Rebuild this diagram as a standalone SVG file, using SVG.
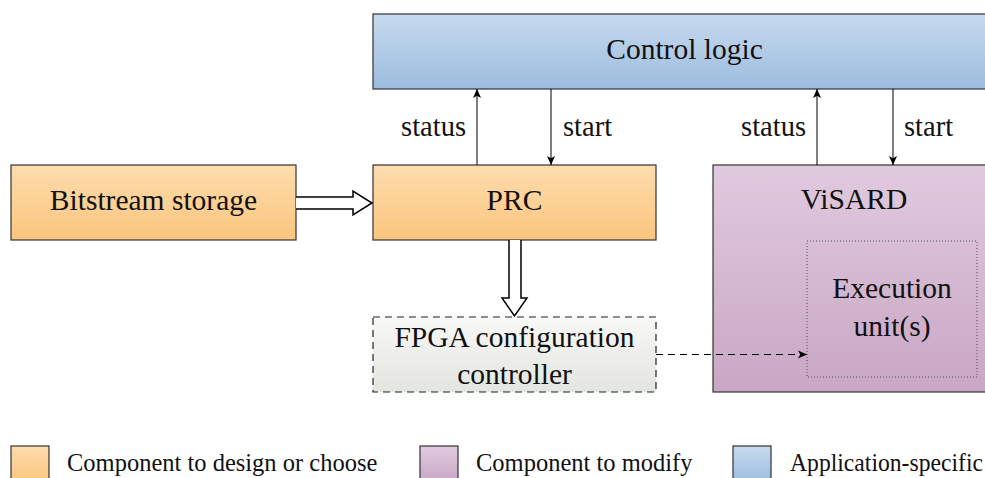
<svg xmlns="http://www.w3.org/2000/svg" width="985" height="478" viewBox="0 0 985 478">
  <defs>
    <linearGradient id="gOrange" x1="0" y1="0" x2="0" y2="1">
      <stop offset="0" stop-color="#fddcae"/>
      <stop offset="1" stop-color="#fbc67d"/>
    </linearGradient>
    <linearGradient id="gPurple" x1="0" y1="0" x2="0" y2="1">
      <stop offset="0" stop-color="#e0cade"/>
      <stop offset="1" stop-color="#c9a6c5"/>
    </linearGradient>
    <linearGradient id="gBlue" x1="0" y1="0" x2="0" y2="1">
      <stop offset="0" stop-color="#c7daee"/>
      <stop offset="1" stop-color="#9cbcdf"/>
    </linearGradient>
    <linearGradient id="gGray" x1="0" y1="0" x2="0" y2="1">
      <stop offset="0" stop-color="#f8f8f6"/>
      <stop offset="1" stop-color="#e3e5e0"/>
    </linearGradient>
    <marker id="tip" viewBox="0 0 10 10" refX="10" refY="5" markerWidth="9" markerHeight="9" markerUnits="userSpaceOnUse" orient="auto">
      <path d="M0,0.5 L10,5 L0,9.5 L2.5,5 Z" fill="#000"/>
    </marker>
  </defs>
  <style>
    .box { stroke: #333; stroke-width: 1.2; }
    .lbl { font-family: "Liberation Serif", "Times New Roman", serif; font-size: 29.5px; fill: #111; }
    .side { font-family: "Liberation Serif", "Times New Roman", serif; font-size: 28.5px; fill: #111; }
    .leg { font-family: "Liberation Serif", "Times New Roman", serif; font-size: 24.5px; fill: #111; }
    .thin { stroke: #000; stroke-width: 1; fill: none; }
    .dbl { fill: #fff; stroke: #000; stroke-width: 1.5; stroke-linejoin: miter; }
  </style>

  <rect width="985" height="478" fill="#fff"/>

  <g id="control-logic">
    <rect class="box" x="373" y="14" width="623" height="75" fill="url(#gBlue)"/>
    <text class="lbl" x="684.5" y="59" text-anchor="middle">Control logic</text>
  </g>

  <g id="bitstream-storage">
    <rect class="box" x="11" y="165" width="285" height="75" fill="url(#gOrange)"/>
    <text class="lbl" x="153.5" y="209.5" text-anchor="middle">Bitstream storage</text>
  </g>

  <g id="prc">
    <rect class="box" x="373" y="165" width="283" height="75" fill="url(#gOrange)"/>
    <text class="lbl" x="514.5" y="209.5" text-anchor="middle">PRC</text>
  </g>

  <g id="fpga-config-controller">
    <rect x="373" y="317" width="283" height="75" fill="url(#gGray)" stroke="#222" stroke-width="1.2" stroke-dasharray="7 5"/>
    <text class="lbl" x="514.5" y="346.5" text-anchor="middle">FPGA configuration</text>
    <text class="lbl" x="514.5" y="384" text-anchor="middle">controller</text>
  </g>

  <g id="visard">
    <rect class="box" x="713" y="165" width="283" height="227" fill="url(#gPurple)"/>
    <text class="lbl" x="854" y="208.5" text-anchor="middle">ViSARD</text>
  </g>

  <g id="execution-units">
    <rect x="807" y="241" width="170" height="136" fill="none" stroke="#555" stroke-width="1" stroke-dasharray="1 2"/>
    <text class="lbl" x="892" y="298" text-anchor="middle">Execution</text>
    <text class="lbl" x="892" y="336" text-anchor="middle">unit(s)</text>
  </g>

  <g id="connectors">
    <!-- status / start handshakes -->
    <line class="thin" x1="477" y1="165" x2="477" y2="89" marker-end="url(#tip)"/>
    <line class="thin" x1="551" y1="89" x2="551" y2="165" marker-end="url(#tip)"/>
    <line class="thin" x1="817" y1="165" x2="817" y2="89" marker-end="url(#tip)"/>
    <line class="thin" x1="893" y1="89" x2="893" y2="165" marker-end="url(#tip)"/>
    <text class="side" x="466" y="136" text-anchor="end">status</text>
    <text class="side" x="563" y="136">start</text>
    <text class="side" x="806" y="136" text-anchor="end">status</text>
    <text class="side" x="904" y="136">start</text>

    <!-- bitstream transfer (double-line arrows) -->
    <path class="dbl" d="M296,197 H353 V191 L372,203 L353,215 V209 H296"/>
    <path class="dbl" d="M509,240 V298 H502 L514.5,316 L527,298 H521 V240"/>

    <!-- reconfiguration of execution units -->
    <line x1="656" y1="354.5" x2="807" y2="354.5" stroke="#000" stroke-width="1.2" stroke-dasharray="7 5" marker-end="url(#tip)"/>
  </g>

  <g id="legend">
    <rect class="box" x="11" y="446" width="38" height="36" fill="url(#gOrange)"/>
    <text class="leg" x="67" y="471">Component to design or choose</text>
    <rect class="box" x="420" y="446" width="38" height="36" fill="url(#gPurple)"/>
    <text class="leg" x="476" y="471">Component to modify</text>
    <rect class="box" x="733" y="446" width="38" height="36" fill="url(#gBlue)"/>
    <text class="leg" x="790" y="471" textLength="193" lengthAdjust="spacingAndGlyphs">Application-specific</text>
  </g>
</svg>
